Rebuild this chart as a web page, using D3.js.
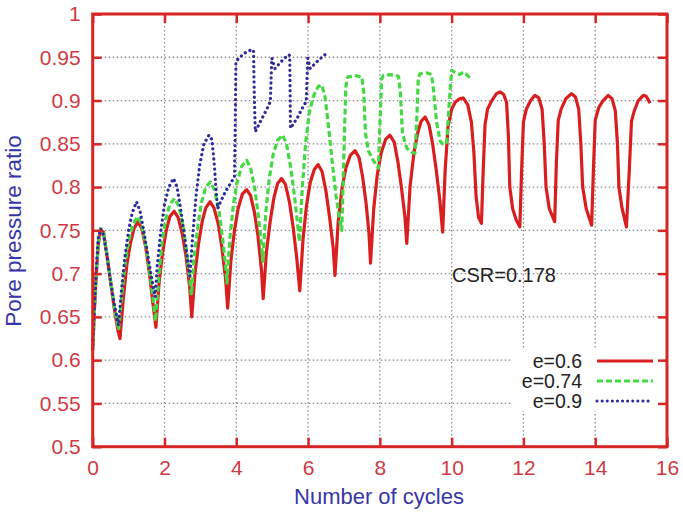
<!DOCTYPE html>
<html><head><meta charset="utf-8">
<script src="https://cdn.jsdelivr.net/npm/d3@7"></script>
<style>
body{margin:0;background:#fff;}
svg{display:block;font-family:"Liberation Sans",Arial,Helvetica,sans-serif;}
</style></head>
<body><svg id="c" width="683" height="513"></svg>
<script>
// ---- data ----
const xTickValues = [0,2,4,6,8,10,12,14,16];
const xTickLabels = ["0","2","4","6","8","10","12","14","16"];
const yTickValues = [0.5,0.55,0.6,0.65,0.7,0.75,0.8,0.85,0.9,0.95,1];
const yTickLabels = ["0.5","0.55","0.6","0.65","0.7","0.75","0.8","0.85","0.9","0.95","1"];
const seriesNames = ["e=0.6","e=0.74","e=0.9"];
const annotation = "CSR=0.178";

const red = [
[0,0.612],[0.05,0.66],[0.1,0.70],[0.16,0.735],[0.22,0.750],[0.3,0.748],[0.4,0.72],[0.5,0.69],[0.6,0.66],[0.7,0.635],[0.76,0.625],
[0.85,0.67],[0.95,0.71],[1.05,0.735],[1.15,0.752],[1.26,0.760],[1.37,0.752],[1.48,0.73],[1.58,0.70],[1.68,0.665],[1.76,0.638],
[1.85,0.69],[1.95,0.725],[2.05,0.75],[2.15,0.766],[2.27,0.772],[2.38,0.765],[2.5,0.745],[2.6,0.72],[2.7,0.685],[2.76,0.650],
[2.85,0.70],[2.95,0.735],[3.05,0.76],[3.15,0.776],[3.27,0.783],[3.38,0.776],[3.5,0.757],[3.6,0.73],[3.7,0.695],[3.76,0.660],
[3.85,0.715],[3.95,0.75],[4.05,0.775],[4.17,0.792],[4.29,0.797],[4.4,0.79],[4.5,0.772],[4.6,0.745],[4.7,0.705],[4.75,0.671],
[4.84,0.725],[4.95,0.762],[5.05,0.788],[5.15,0.804],[5.26,0.810],[5.37,0.803],[5.48,0.783],[5.58,0.755],[5.68,0.72],[5.77,0.680],
[5.86,0.74],[5.96,0.78],[6.06,0.805],[6.17,0.82],[6.28,0.826],[6.39,0.818],[6.5,0.795],[6.6,0.765],[6.7,0.73],[6.75,0.698],
[6.84,0.76],[6.95,0.80],[7.06,0.823],[7.18,0.837],[7.31,0.842],[7.42,0.834],[7.52,0.812],[7.62,0.78],[7.7,0.745],[7.74,0.712],
[7.83,0.775],[7.93,0.815],[8.04,0.84],[8.16,0.855],[8.28,0.860],[8.4,0.852],[8.5,0.83],[8.6,0.80],[8.7,0.765],[8.75,0.735],
[8.84,0.80],[8.95,0.84],[9.05,0.862],[9.15,0.876],[9.26,0.881],[9.37,0.872],[9.47,0.85],[9.57,0.82],[9.67,0.785],[9.75,0.748],
[9.82,0.82],[9.9,0.87],[10.0,0.89],[10.1,0.898],[10.22,0.902],[10.32,0.903],[10.45,0.895],[10.55,0.875],[10.62,0.84],[10.68,0.79],[10.75,0.765],[10.83,0.758],
[10.88,0.82],[10.93,0.872],[11.0,0.89],[11.12,0.90],[11.25,0.908],[11.35,0.910],[11.45,0.907],[11.53,0.898],[11.58,0.86],[11.62,0.80],[11.7,0.775],[11.8,0.762],[11.9,0.754],
[11.95,0.82],[12.0,0.875],[12.08,0.89],[12.2,0.90],[12.32,0.906],[12.43,0.903],[12.52,0.89],[12.58,0.85],[12.63,0.80],[12.72,0.775],[12.87,0.76],
[12.92,0.83],[12.97,0.877],[13.05,0.89],[13.18,0.902],[13.34,0.908],[13.45,0.904],[13.54,0.89],[13.6,0.85],[13.65,0.80],[13.75,0.775],[13.9,0.756],
[13.95,0.82],[14.0,0.877],[14.1,0.892],[14.22,0.90],[14.36,0.906],[14.47,0.902],[14.56,0.888],[14.62,0.85],[14.66,0.80],[14.75,0.775],[14.87,0.754],
[14.95,0.82],[15.01,0.876],[15.08,0.887],[15.2,0.90],[15.34,0.906],[15.42,0.905],[15.53,0.897]
];

const green = [
[0,0.612],[0.05,0.66],[0.1,0.70],[0.16,0.737],[0.22,0.752],[0.3,0.748],[0.4,0.722],[0.5,0.692],[0.6,0.662],[0.72,0.635],
[0.8,0.67],[0.9,0.71],[1.0,0.737],[1.12,0.757],[1.25,0.766],[1.36,0.757],[1.47,0.735],[1.58,0.705],[1.68,0.672],[1.75,0.645],
[1.83,0.69],[1.93,0.735],[2.03,0.762],[2.15,0.78],[2.28,0.787],[2.4,0.778],[2.52,0.755],[2.62,0.725],[2.7,0.695],[2.75,0.675],
[2.83,0.72],[2.93,0.755],[3.03,0.782],[3.15,0.800],[3.28,0.806],[3.4,0.796],[3.52,0.772],[3.62,0.74],[3.7,0.71],[3.74,0.689],
[3.82,0.74],[3.92,0.78],[4.02,0.805],[4.15,0.824],[4.29,0.831],[4.4,0.822],[4.52,0.797],[4.62,0.765],[4.7,0.735],[4.74,0.714],
[4.82,0.77],[4.92,0.81],[5.03,0.838],[5.15,0.854],[5.29,0.860],[5.4,0.85],[5.52,0.822],[5.62,0.79],[5.7,0.76],[5.76,0.737],
[5.84,0.80],[5.93,0.85],[6.03,0.885],[6.15,0.905],[6.28,0.916],[6.38,0.918],[6.47,0.905],[6.57,0.87],[6.67,0.83],[6.78,0.79],[6.88,0.762],[6.94,0.75],
[7.0,0.84],[7.05,0.915],[7.1,0.927],[7.3,0.929],[7.5,0.927],[7.55,0.91],[7.6,0.862],[7.68,0.842],[7.8,0.832],[7.96,0.822],
[8.0,0.87],[8.05,0.925],[8.1,0.929],[8.3,0.93],[8.52,0.928],[8.57,0.91],[8.63,0.862],[8.75,0.845],[8.9,0.84],[8.98,0.839],
[9.03,0.88],[9.07,0.926],[9.12,0.931],[9.3,0.932],[9.44,0.93],[9.5,0.91],[9.58,0.875],[9.68,0.853],[9.75,0.85],[9.86,0.85],
[9.93,0.895],[10.0,0.935],[10.1,0.932],[10.23,0.930],[10.32,0.933],[10.42,0.93],[10.51,0.926]
];

const blue = [
[0,0.612],[0.05,0.665],[0.1,0.705],[0.15,0.74],[0.22,0.752],[0.3,0.745],[0.4,0.72],[0.5,0.69],[0.6,0.665],[0.72,0.64],
[0.8,0.68],[0.9,0.72],[1.0,0.75],[1.1,0.77],[1.22,0.783],[1.32,0.772],[1.42,0.75],[1.52,0.725],[1.62,0.70],[1.74,0.673],
[1.8,0.71],[1.9,0.75],[2.0,0.78],[2.12,0.80],[2.25,0.81],[2.35,0.80],[2.45,0.775],[2.55,0.745],[2.63,0.72],[2.71,0.697],
[2.78,0.74],[2.88,0.79],[2.98,0.825],[3.1,0.85],[3.24,0.86],[3.32,0.855],[3.38,0.83],[3.43,0.80],[3.48,0.775],[3.55,0.782],[3.7,0.795],[3.85,0.805],[3.95,0.812],
[3.97,0.87],[3.99,0.945],[4.1,0.95],[4.24,0.955],[4.44,0.959],[4.48,0.958],[4.5,0.91],[4.53,0.864],[4.7,0.878],[4.85,0.89],[4.95,0.899],
[4.97,0.925],[4.99,0.949],[5.08,0.937],[5.25,0.945],[5.45,0.953],[5.49,0.952],[5.5,0.91],[5.51,0.868],[5.7,0.88],[5.85,0.892],[5.95,0.899],
[5.97,0.925],[5.99,0.949],[6.06,0.937],[6.25,0.945],[6.47,0.953]
];

// ---- layout ----
const svg = d3.select("#c");
const L = 92.7, R = 667, T = 14, B = 446.7;
const x = d3.scaleLinear().domain([0,16]).range([L,R]);
const y = d3.scaleLinear().domain([0.5,1]).range([B,T]);
const axisRed = "#d92424", labelRed = "#cf3a44", titleBlue = "#3636a8";

// grid
const grid = svg.append("g").attr("stroke","#8a8a8a").attr("stroke-width",1.3).attr("stroke-dasharray","1.5,2.5");
grid.selectAll("line.h").data(yTickValues.filter(v=>v>0.5&&v<1)).join("line")
  .attr("x1",L).attr("x2",R).attr("y1",d=>y(d)).attr("y2",d=>y(d));
grid.selectAll("line.v").data(xTickValues.filter(v=>v>0&&v<16)).join("line")
  .attr("y1",T).attr("y2",B).attr("x1",d=>x(d)).attr("x2",d=>x(d));

// legend background box (masks grid)
svg.append("rect").attr("x",512).attr("y",348).attr("width",152).attr("height",63).attr("fill","#fff");

// lines
const line = d3.line().x(d=>x(d[0])).y(d=>y(d[1]));
const plot = svg.append("g").attr("fill","none").attr("stroke-linejoin","round");
plot.append("path").attr("d",line(red)).attr("stroke","#d81e1e").attr("stroke-width",3.2);
plot.append("path").attr("d",line(green)).attr("stroke","#45d845").attr("stroke-width",3.2).attr("stroke-dasharray","6,3");
plot.append("path").attr("d",line(blue)).attr("stroke","#2c2c9c").attr("stroke-width",3.2)
  .attr("stroke-dasharray","0.1,5").attr("stroke-linecap","round");

// axes
function styleAxis(g){
  g.select(".domain").remove();
  g.selectAll(".tick line").attr("stroke",axisRed).attr("stroke-width",2.5);
  g.selectAll(".tick text").attr("fill",labelRed).attr("font-size",21).attr("font-family","Liberation Sans, Arial, sans-serif");
}
svg.append("g").attr("transform",`translate(0,${B})`)
  .call(d3.axisBottom(x).tickValues(xTickValues).tickFormat((d,i)=>xTickLabels[i]).tickSize(-9).tickSizeOuter(0).tickPadding(13))
  .call(styleAxis);
svg.append("g").attr("transform",`translate(0,${T})`)
  .call(d3.axisTop(x).tickValues(xTickValues).tickFormat("").tickSize(-9).tickSizeOuter(0))
  .call(styleAxis);
svg.append("g").attr("transform",`translate(${L},0)`)
  .call(d3.axisLeft(y).tickValues(yTickValues).tickFormat((d,i)=>yTickLabels[i]).tickSize(-9).tickSizeOuter(0).tickPadding(12))
  .call(styleAxis);
svg.append("g").attr("transform",`translate(${R},0)`)
  .call(d3.axisRight(y).tickValues(yTickValues).tickFormat("").tickSize(-9).tickSizeOuter(0))
  .call(styleAxis);

// frame
svg.append("rect").attr("x",L).attr("y",T).attr("width",R-L).attr("height",B-T)
  .attr("fill","none").attr("stroke",axisRed).attr("stroke-width",3);

// titles
svg.append("text").attr("x",379).attr("y",504).attr("text-anchor","middle")
  .attr("font-size",22).attr("fill",titleBlue).text("Number of cycles");
svg.append("text").attr("transform","translate(21,231) rotate(-90)").attr("text-anchor","middle")
  .attr("font-size",22.5).attr("fill",titleBlue).text("Pore pressure ratio");

// annotation
svg.append("text").attr("x",452).attr("y",282).attr("font-size",20).attr("fill","#222").text(annotation);

// legend
const legY = [361,381,401];
const legStyles = [
  {stroke:"#d81e1e",dash:null,cap:"butt"},
  {stroke:"#45d845",dash:"6,3",cap:"butt"},
  {stroke:"#2c2c9c",dash:"0.1,5",cap:"round"}
];
seriesNames.forEach((n,i)=>{
  svg.append("text").attr("x",582).attr("y",legY[i]+7).attr("text-anchor","end")
    .attr("font-size",19.5).attr("fill","#222").text(n);
  svg.append("line").attr("x1",597).attr("x2",653).attr("y1",legY[i]).attr("y2",legY[i])
    .attr("stroke",legStyles[i].stroke).attr("stroke-width",3)
    .attr("stroke-dasharray",legStyles[i].dash).attr("stroke-linecap",legStyles[i].cap);
});
</script></body></html>
